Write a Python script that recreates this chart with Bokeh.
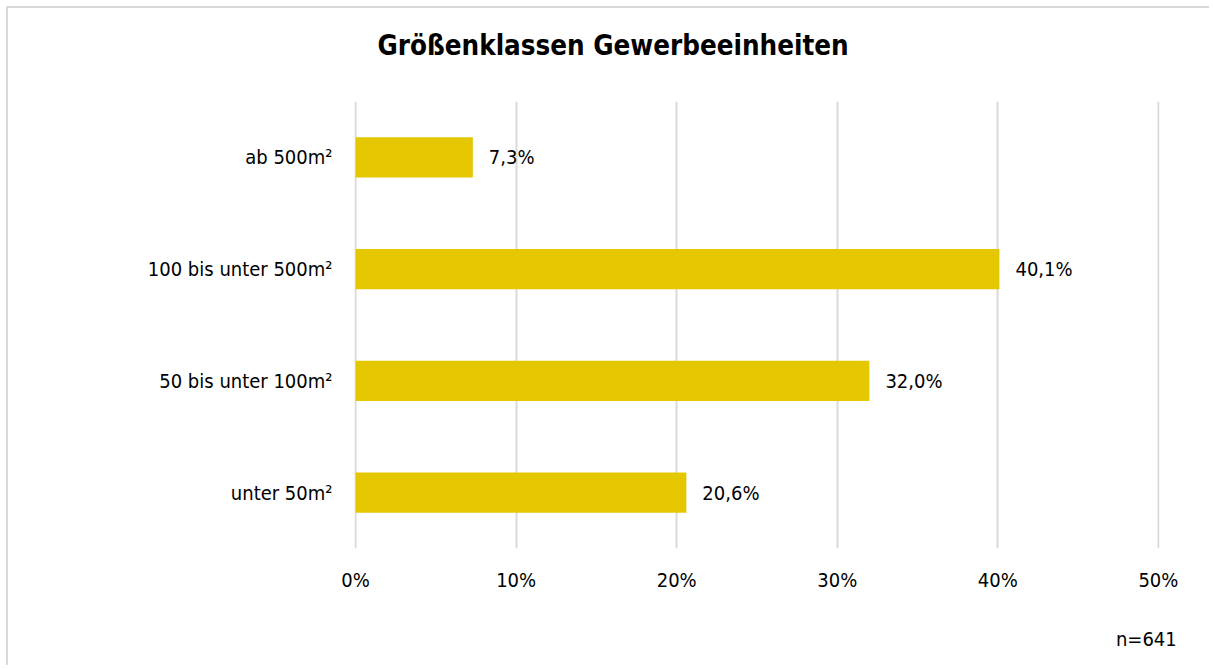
from bokeh.plotting import figure
from bokeh.models import Title, LinearAxis, ColumnDataSource, FactorRange, Range1d, FixedTicker, CustomJSTickFormatter
from bokeh.embed import file_html
from bokeh.resources import INLINE
from bokeh.core.properties import value

categories = ["unter 50m²", "50 bis unter 100m²", "100 bis unter 500m²", "ab 500m²"]
shares = [20.6, 32.0, 40.1, 7.3]
share_labels = ["20,6%", "32,0%", "40,1%", "7,3%"]
x_ticks = [0, 10, 20, 30, 40, 50]
title_text = "Größenklassen Gewerbeeinheiten"
note_text = "n=641"
note_pos = [49.25]

FONT = "DejaVu Sans Condensed"
BAR = "#E5C700"
GRID = "#D9D9D9"
TXT = "#000000"

src = ColumnDataSource(dict(cat=categories, val=shares, lab=share_labels))

p = figure(width=1203, height=659, output_backend="svg", toolbar_location=None,
           y_range=FactorRange(*categories, range_padding=0), x_range=Range1d(-0.07, 50.07),
           min_border_left=346, min_border_right=52, min_border_top=93, min_border_bottom=119)
p.outline_line_color = None
p.background_fill_color = "white"
p.border_fill_color = "white"

p.hbar(y="cat", right="val", height=0.36, source=src, fill_color=BAR, line_color=None)
p.text(x="val", y="cat", text="lab", source=src, x_offset=16, text_align="left",
       text_baseline="middle", text_font=value(FONT), text_font_size="20px", text_color=TXT)

p.xaxis.ticker = FixedTicker(ticks=x_ticks)
p.xaxis.formatter = CustomJSTickFormatter(code="return tick + '%';")
p.xaxis.axis_line_color = None
p.xaxis.major_tick_line_color = None
p.xaxis.minor_tick_line_color = None
p.xaxis.major_label_standoff = 13
p.xaxis.major_label_text_font = FONT
p.xaxis.major_label_text_font_size = "20px"
p.xaxis.major_label_text_color = TXT

p.yaxis.axis_line_color = None
p.yaxis.major_tick_line_color = None
p.yaxis.minor_tick_line_color = None
p.yaxis.major_label_standoff = 16
p.yaxis.major_label_text_font = FONT
p.yaxis.major_label_text_font_size = "20px"
p.yaxis.major_label_text_color = TXT

p.xgrid.grid_line_color = GRID
p.xgrid.grid_line_width = 2
p.ygrid.grid_line_color = None

# note "n=641" as a second, label-only axis below
note_axis = LinearAxis(ticker=FixedTicker(ticks=note_pos),
                       formatter=CustomJSTickFormatter(args=dict(t=note_text), code="return t;"),
                       axis_line_color=None, major_tick_line_color=None, minor_tick_line_color=None,
                       major_label_standoff=26, major_label_text_font=FONT,
                       major_label_text_font_size="20px", major_label_text_color=TXT)
p.add_layout(note_axis, "below")

# spacer (closest to frame) then real title
p.add_layout(Title(text=" ", text_font_size="2px", standoff=15), "above")
p.add_layout(Title(text=title_text, align="left", offset=23, standoff=40, vertical_align="top",
                   text_font=FONT, text_font_size="27.5px", text_font_style="bold",
                   text_color=TXT), "above")

p.styles = {"border-left": "2px solid #D9D9D9", "border-top": "2px solid #D9D9D9",
            "margin-left": "6px", "margin-top": "6px"}

open("out.html", "w").write(file_html(p, INLINE))
